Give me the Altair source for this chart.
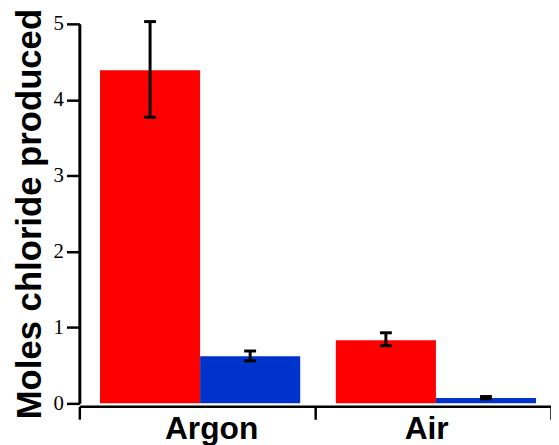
import altair as alt
import pandas as pd

groups = ["Argon", "Argon", "Air", "Air"]
series = ["A", "B", "A", "B"]
values = [4.39, 0.62, 0.83, 0.07]
err_low = [3.77, 0.56, 0.76, 0.06]
err_high = [5.03, 0.69, 0.93, 0.09]
group_order = ["Argon", "Air"]
series_colors = ["#ff0000", "#0033cc"]
y_ticks = [0, 1, 2, 3, 4, 5]

df = pd.DataFrame({"group": groups, "series": series, "value": values,
                   "lo": err_low, "hi": err_high})

x_axis = alt.Axis(labelAngle=0, tickBand="extent", tickSize=13, tickWidth=2.5,
                  domainWidth=2.5, domainColor="black", tickColor="black", grid=False,
                  labelFont="Liberation Sans", labelFontWeight="bold",
                  labelFontSize=32, labelColor="black", labelPadding=-6,
                  labelOffset={"condition": {"test": "datum.value == 'Argon'", "value": 14}, "value": -7},
                  offset=3)
y_axis = alt.Axis(values=y_ticks, format="d", tickSize=13, tickWidth=2.5, domainWidth=3,
                  domainColor="#000000", tickColor="#000000", grid=False,
                  labelFont="Liberation Serif", labelFontSize=21, labelColor="black",
                  labelPadding=3,
                  titleFont="Liberation Sans", titleFontWeight="bold", titleFontSize=35,
                  titleColor="black", titlePadding=6)

x_scale = alt.Scale(paddingInner=0, paddingOuter=0)
xo_enc = alt.XOffset("series:N", scale=alt.Scale(paddingInner=0, paddingOuter=0.178, align=0.58))
y_scale = alt.Scale(domain=[0, 5], nice=False, zero=True)
y_title = "Moles chloride produced"


def x_enc():
    return alt.X("group:N", sort=group_order, title=None, scale=x_scale, axis=x_axis)


def y_enc(field):
    return alt.Y(field, scale=y_scale, title=y_title, axis=y_axis)


bars = alt.Chart(df).mark_bar().encode(
    x=x_enc(),
    xOffset=xo_enc,
    y=y_enc("value:Q"),
    color=alt.Color("series:N", scale=alt.Scale(domain=["A", "B"], range=series_colors), legend=None),
)

rules = alt.Chart(df).mark_rule(color="black", strokeWidth=3).encode(
    x=x_enc(),
    xOffset=xo_enc,
    y=y_enc("lo:Q"),
    y2="hi:Q",
)
caps_hi = alt.Chart(df).mark_tick(color="black", thickness=3, size=12, opacity=1).encode(
    x=x_enc(),
    xOffset=xo_enc,
    y=y_enc("hi:Q"),
)
caps_lo = alt.Chart(df).mark_tick(color="black", thickness=3, size=12, opacity=1).encode(
    x=x_enc(),
    xOffset=xo_enc,
    y=y_enc("lo:Q"),
)

chart = alt.layer(bars, rules, caps_hi, caps_lo).properties(
    width=476, height=383,
    background="white",
    autosize=alt.AutoSizeParams(type="none"),
    padding={"left": 72, "top": 14, "right": 0, "bottom": 40},
).configure_view(stroke=None)

chart.save("out.html", embed_options={"renderer": "svg", "actions": False})
